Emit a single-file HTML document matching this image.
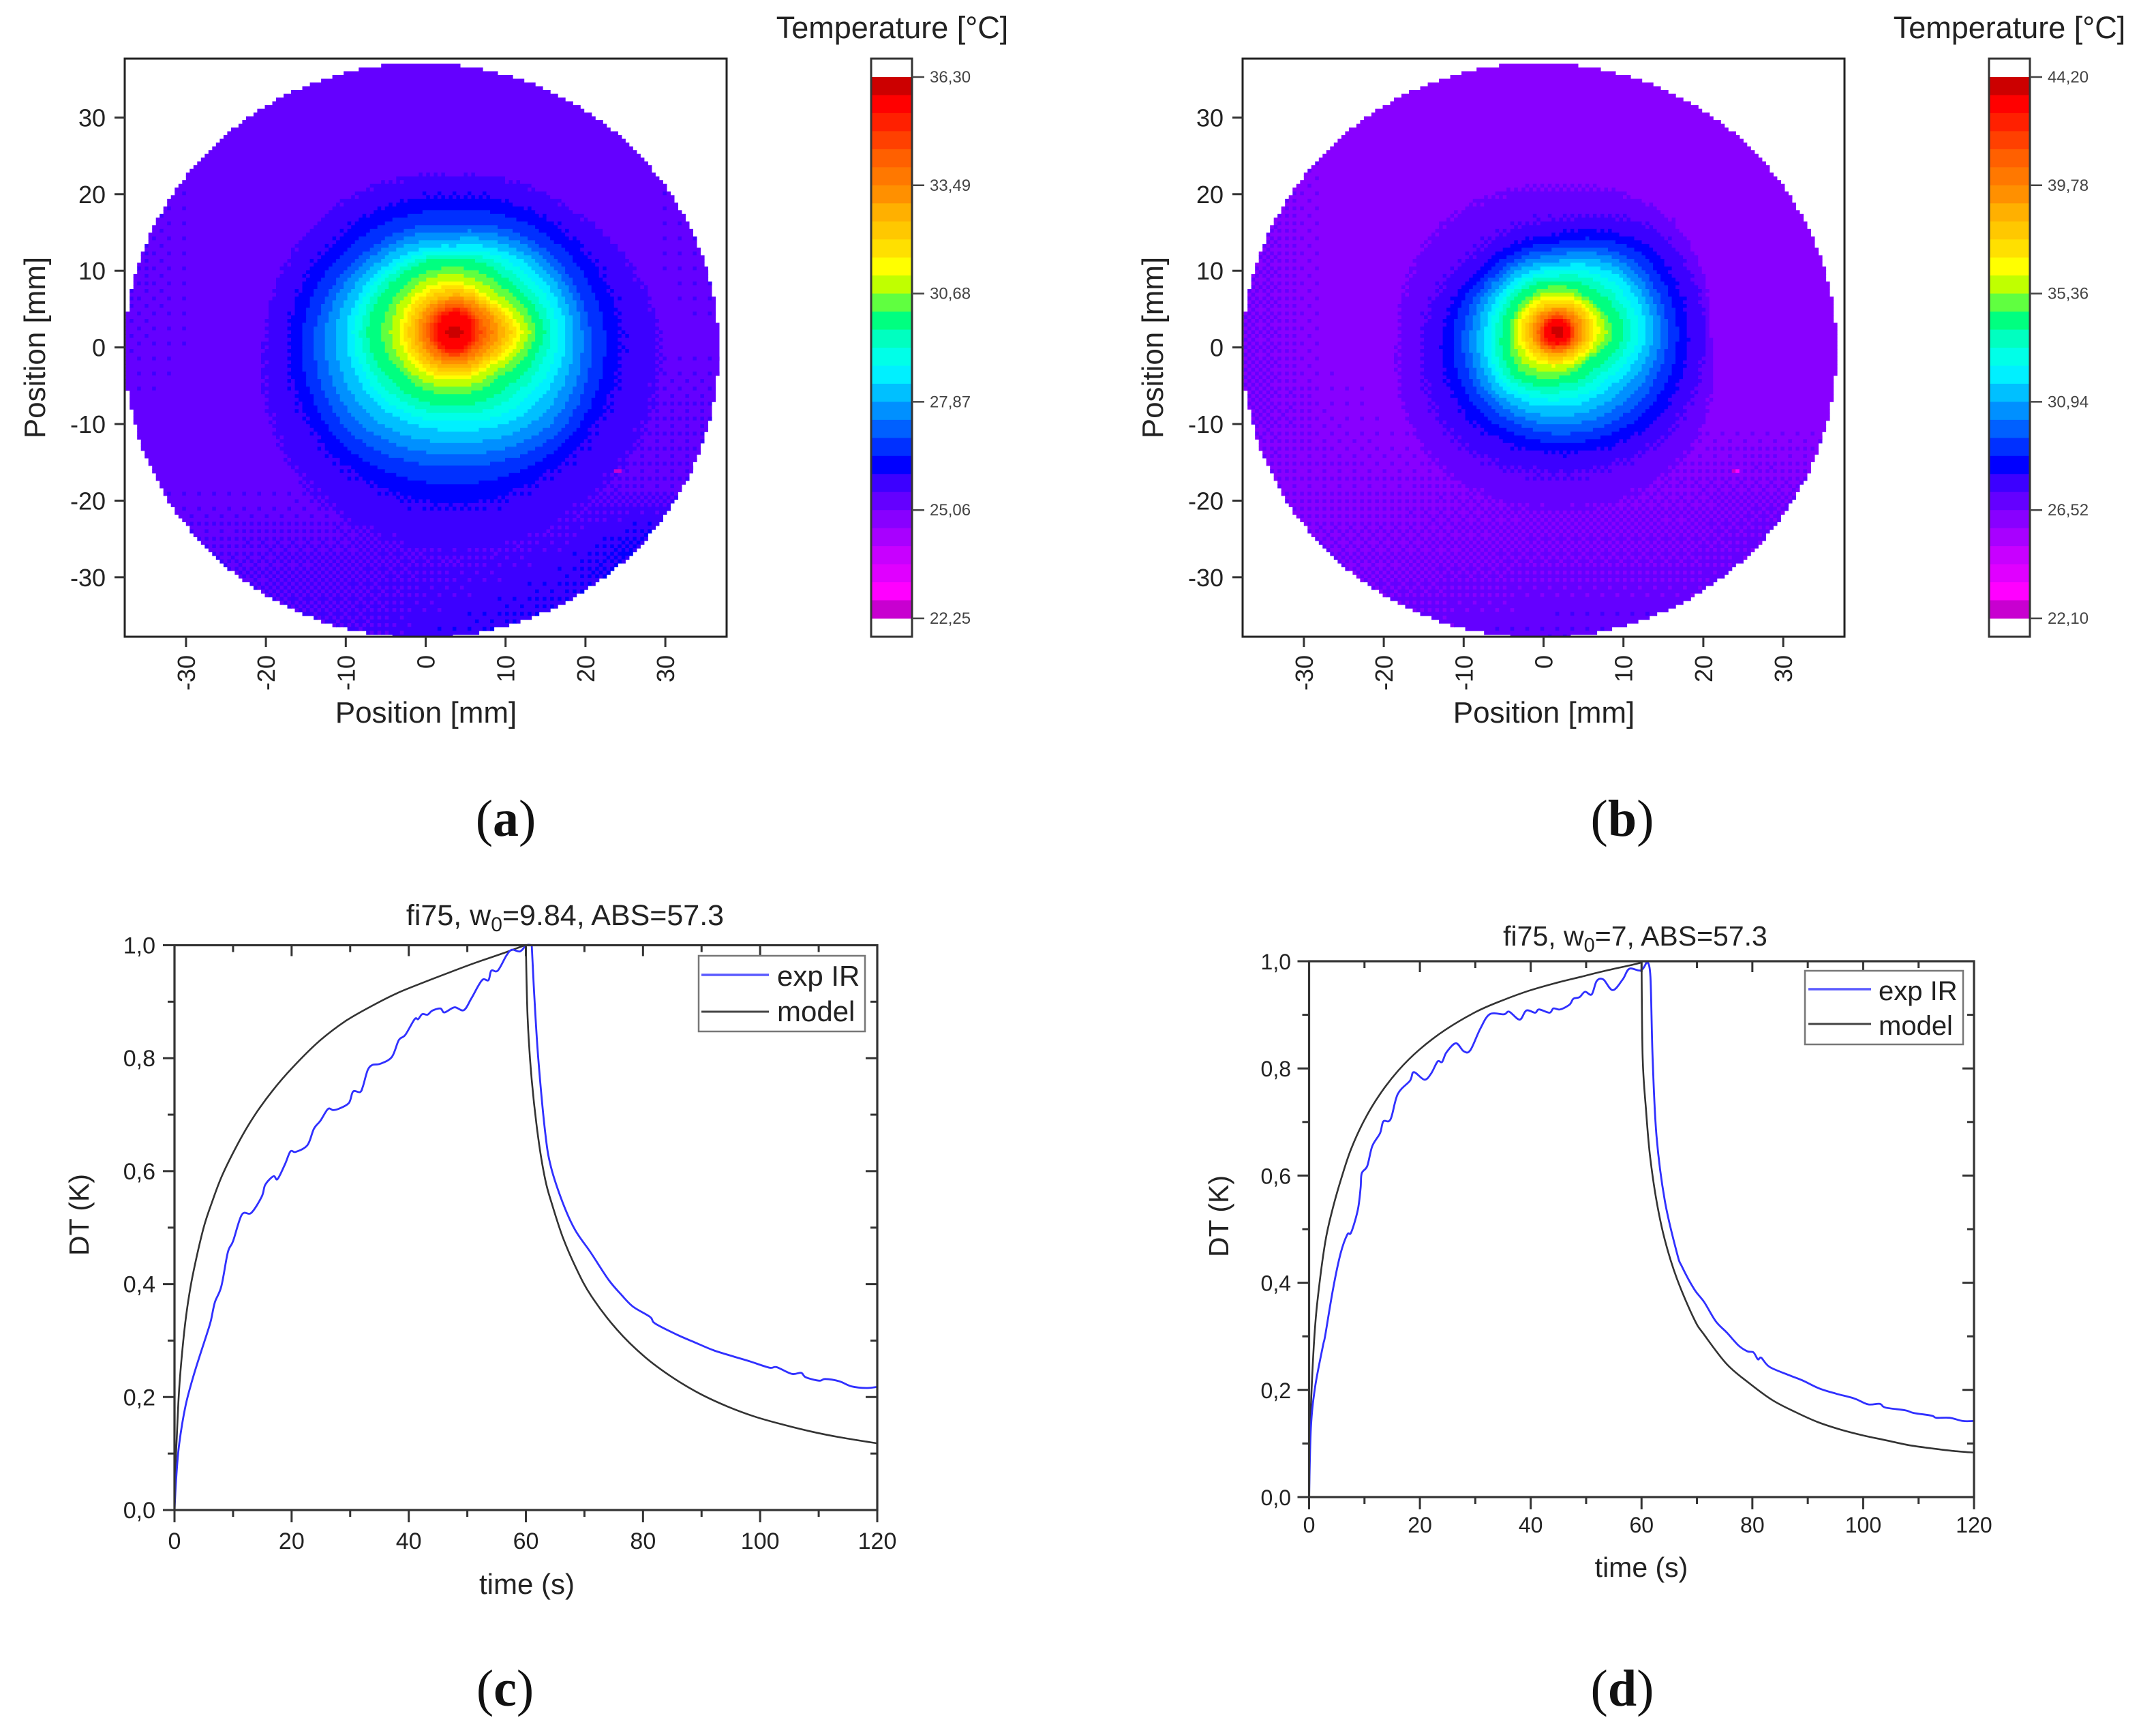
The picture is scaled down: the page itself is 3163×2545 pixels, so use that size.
<!DOCTYPE html>
<html lang="en">
<head>
<meta charset="utf-8">
<title>Temperature maps and DT curves</title>
<style>
html,body{margin:0;padding:0;background:#fff}
svg{display:block}
text{font-family:"Liberation Sans",sans-serif;fill:#222}
.lbl{font-family:"Liberation Serif",serif;fill:#111;font-size:76px}
</style>
</head>
<body>
<svg id="figure" xmlns="http://www.w3.org/2000/svg" width="3163" height="2545" viewBox="0 0 3163 2545">
<rect x="0" y="0" width="3163" height="2545" fill="#ffffff"/>
<text class="lbl" x="742" y="1226" text-anchor="middle">(<tspan font-weight="bold">a</tspan>)</text>
<text class="lbl" x="2380" y="1226" text-anchor="middle">(<tspan font-weight="bold">b</tspan>)</text>
<text class="lbl" x="741" y="2502" text-anchor="middle">(<tspan font-weight="bold">c</tspan>)</text>
<text class="lbl" x="2380" y="2502" text-anchor="middle">(<tspan font-weight="bold">d</tspan>)</text>

<text x="1309" y="56" font-size="45" text-anchor="middle">Temperature [°C]</text>
<text x="2948" y="56" font-size="45" text-anchor="middle">Temperature [°C]</text>

<text x="829" y="1357" font-size="43" text-anchor="middle">fi75, w<tspan font-size="30" dy="9">0</tspan><tspan dy="-9">=9.84, ABS=57.3</tspan></text>
<text x="2399" y="1387" font-size="41" text-anchor="middle">fi75, w<tspan font-size="29" dy="9">0</tspan><tspan dy="-9">=7, ABS=57.3</tspan></text>

<g id="panelA"></g>
<g id="panelB"></g>
<g id="panelC"></g>
<g id="panelD"></g>

<g>
<rect x="1025" y="1402" width="244" height="111" fill="#fff" stroke="#777" stroke-width="2.5"/>
<line x1="1029" y1="1430" x2="1128" y2="1430" stroke="#5a5aff" stroke-width="3.5"/>
<line x1="1029" y1="1484" x2="1128" y2="1484" stroke="#444" stroke-width="3"/>
<text x="1140" y="1446" font-size="42">exp IR</text>
<text x="1140" y="1498" font-size="42">model</text>
</g>
<g>
<rect x="2648" y="1424" width="232" height="108" fill="#fff" stroke="#777" stroke-width="2.5"/>
<line x1="2653" y1="1451" x2="2745" y2="1451" stroke="#5a5aff" stroke-width="3.5"/>
<line x1="2653" y1="1502" x2="2745" y2="1502" stroke="#444" stroke-width="3"/>
<text x="2756" y="1467" font-size="40">exp IR</text>
<text x="2756" y="1518" font-size="40">model</text>
</g>
</svg>

<script>
/* ---------- shared colour scale (top to bottom of the colour bar) ---------- */
var bandColors = ['#cc0000','#ff0000','#ff2000','#ff4000','#ff6000','#ff7800','#ff9000','#ffb000','#ffc800','#ffe000',
  '#ffff00','#c0ff00','#60ff40','#00ff80','#00ffc0','#00ffe8','#00f0ff','#00c0ff','#0090ff','#0060ff',
  '#0030ff','#0000ff','#3c00ff','#6400ff','#8800ff','#a800ff','#c800ff','#e000ff','#ff00ff','#c800d0'];

/* ---------- panel a/b axis ticks ---------- */
var mmTicks = [-30,-20,-10,0,10,20,30];
var contourAngles = [0,45,90,135,180,225,270,315];

/* ---------- panel a ---------- */
var colorbarValuesA = [36.30,33.49,30.68,27.87,25.06,22.25];
var blobCenterA = [3.6,2.0];
var contourBandsA = [1,2,5,8,11,13,14,17,20,22,23];
var contourRadiiA = [
  [1.0,1.0,0.9,1.0,1.0,1.0,0.9,1.0],
  [2.1,2.5,2.7,2.4,2.2,2.4,2.4,2.2],
  [3.9,3.7,3.6,3.6,3.4,3.4,3.3,3.4],
  [6.4,5.1,4.9,4.9,5.1,4.9,4.8,4.9],
  [8.5,6.1,6.6,6.8,6.9,6.6,6.3,6.3],
  [10.3,8.4,8.4,8.7,9.1,8.4,8.2,8.1],
  [11.3,9.5,9.7,10.1,10.9,10.1,9.6,9.7],
  [14,12.7,11.2,12.2,13.6,13.5,12.8,13.9],
  [17,15.6,14,15.2,17.5,18.6,17.3,18.6],
  [20.6,18.8,17.5,18.8,20.6,21.9,22.4,21.3],
  [25.9,22,20.5,22.5,23.8,27.5,30,28]
];
var outerBandGridA = [
  [23.9,24,24,24,24,24,24,24,24],
  [23.8,24,24,24,24,24,24,24,23.9],
  [23.8,24,24,24,24,24,24,24,23.9],
  [23.8,24,24,24,24,24,24,24,23.9],
  [23.9,24,24,24,24,24,24,24,24],
  [24,24,24,24,24,24,24,23.8,23.8],
  [24,24,24,24,23.8,23.6,23.6,23.8,23.8],
  [23.7,23.7,23.6,23.5,23.4,23.2,23,22.2,22.2],
  [23.4,23.4,23.4,23.4,23,22.8,22.6,22.2,22.2]
];
var hotCellsA = [[23.4,-16.1,30],[23.9,-16.1,30]];

/* ---------- panel b ---------- */
var colorbarValuesB = [44.20,39.78,35.36,30.94,26.52,22.10];
var blobCenterB = [1.75,2.0];
var contourBandsB = [1,2,5,8,11,13,14,17,20,22,23,24];
var contourRadiiB = [
  [0.7,0.7,0.6,0.7,0.7,0.7,0.6,0.7],
  [1.5,1.6,1.6,1.6,1.5,1.6,1.5,1.5],
  [2.3,2.3,2.5,2.4,2.4,2.5,2.2,2.3],
  [3.6,3.6,3.3,3.5,3.5,3.3,3.1,3.1],
  [5.2,5.0,4.7,4.9,5.1,4.8,4.4,4.4],
  [7,5.8,6,5.8,6,6.9,5.9,5.2],
  [8.4,7.3,6.7,6.9,7,8,6.9,6.7],
  [11.2,10.5,8.5,8.8,9,10.1,9.8,9.7],
  [13.8,13.3,10.8,10.8,11.8,12.8,13.3,13.7],
  [16.3,15.9,12.6,12.7,14.2,15.7,15.6,16.6],
  [18.5,18.3,14.5,14.5,16.7,19,18.3,19.2],
  [19,20.7,19.2,20.5,20,23,24,23]
];
var outerBandGridB = [
  [25,25,25,25,25,25,25,25,25],
  [24.5,25,25,25,25,25,25,25,25],
  [24.5,25,25,25,25,25,25,25,25],
  [24.5,25,25,25,25,25,25,25,25],
  [24.5,25,25,25,25,25,25,25,25],
  [24.5,24.9,25,25,25,25,25,25,25],
  [24.8,24.8,24.8,24.7,24.6,24.6,24.7,24.6,24.7],
  [24.7,24.6,24.6,24.5,24.4,24.4,24.4,24.1,24],
  [24.5,24.4,24.2,24,23.9,23.9,23.9,23.9,23.9]
];
var hotCellsB = [[23.5,-16.1,30],[24,-16.1,29]];

/* ---------- chart c data ---------- */
var timeTicks = [0,20,40,60,80,100,120];
var timeMinorTicks = [10,30,50,70,90,110];
var dtTicks = [0,0.2,0.4,0.6,0.8,1.0];
var dtMinorTicks = [0.1,0.3,0.5,0.7,0.9];
var expTimeC = [0,0.3,0.8,1.9,3.4,5.5,6.2,6.9,8,9.1,10,11.5,13.1,14.9,15.5,16.9,17.6,18.9,19.8,20.7,22.7,23.8,24.9,26.2,27.1,28.2,29.8,30.5,31.7,32.2,33,33.8,35.1,37.1,38.3,39.4,41,41.6,42.3,43.2,44,45.4,46.1,47.8,49.4,50.7,52.5,53.6,54.1,55.2,56.7,57.6,59,60.1,61,61.4,62.1,63.3,64.3,66.3,68.4,71,74.1,76.4,78.3,81.2,82.1,85.9,88.8,92,95.4,98.3,101.6,102.8,105.4,107,107.8,110.1,111.1,113.5,115.6,118.2,120];
var expValC = [0,0.058,0.117,0.185,0.243,0.311,0.335,0.368,0.396,0.456,0.476,0.523,0.526,0.555,0.576,0.591,0.586,0.613,0.635,0.634,0.646,0.675,0.689,0.71,0.708,0.711,0.721,0.741,0.74,0.751,0.779,0.788,0.79,0.802,0.832,0.841,0.869,0.869,0.878,0.877,0.884,0.888,0.881,0.89,0.885,0.906,0.938,0.938,0.955,0.955,0.982,0.992,0.989,1,1,0.918,0.802,0.668,0.607,0.544,0.496,0.457,0.408,0.38,0.36,0.342,0.33,0.31,0.297,0.283,0.272,0.263,0.252,0.253,0.241,0.243,0.235,0.229,0.232,0.228,0.219,0.216,0.218];
var modelTimeC = [0,0.1,0.4,0.8,1.5,2.2,3.1,4.9,6.4,8.2,10.9,13.5,16.7,20.2,24.7,29.1,33.6,38,42.5,47,51.4,55.9,59.6,60,60.3,61,62.1,63.3,64.5,66.3,68.5,71.1,75.5,80.2,85,89.7,94.5,99.2,104,108.7,113.5,120];
var modelValC = [0,0.058,0.13,0.215,0.3,0.36,0.415,0.497,0.545,0.594,0.65,0.696,0.742,0.784,0.83,0.865,0.892,0.915,0.934,0.952,0.969,0.985,0.999,1,0.871,0.761,0.66,0.585,0.54,0.483,0.43,0.38,0.32,0.272,0.235,0.206,0.183,0.165,0.151,0.139,0.129,0.118];

/* ---------- chart d data ---------- */
var expTimeD = [0,0.33,1.1,2.5,2.9,4.3,5.7,6.9,7.6,8.8,9.3,9.5,10.5,11.4,12.8,13.4,14.7,16,18.2,18.9,20.8,22,23.2,24,24.8,26.5,27.9,29.1,30.9,32.6,35.2,36.1,38,39.2,40.8,41.5,43.4,44.1,45.3,47,47.7,48.8,49.8,51,51.9,53.1,54.8,56.6,57.8,59.9,61,61.6,62,62.7,64.2,66.4,67.3,69.5,71.3,73.4,75.4,77.5,79.1,80.2,81,81.6,83.1,86.5,89,92,95.1,98.4,100.9,103,104,107.6,109.1,112.3,113.2,115.6,118,120];
var expValD = [0,0.13,0.206,0.282,0.301,0.387,0.455,0.49,0.494,0.536,0.577,0.604,0.618,0.655,0.679,0.701,0.705,0.752,0.777,0.793,0.779,0.79,0.813,0.812,0.83,0.847,0.832,0.834,0.874,0.901,0.901,0.906,0.891,0.908,0.904,0.91,0.904,0.912,0.91,0.919,0.93,0.933,0.943,0.938,0.963,0.966,0.946,0.966,0.986,0.983,1,0.971,0.82,0.674,0.553,0.455,0.43,0.388,0.364,0.328,0.307,0.283,0.272,0.27,0.257,0.26,0.243,0.228,0.218,0.203,0.193,0.184,0.173,0.174,0.167,0.162,0.157,0.152,0.148,0.148,0.142,0.142];
var modelTimeD = [0,0.1,0.33,0.9,1.5,2.9,4.3,6,7.6,10,12.8,16.1,19.9,24.6,30.2,34.9,39.7,44.4,49.1,53.8,59.4,60,60.2,60.8,61.5,62.7,64.2,66.4,69.5,71.3,75.4,79.5,83.6,87.7,91.8,95.9,100,104.1,108.2,112.3,116.4,120];
var modelValD = [0,0.08,0.17,0.29,0.365,0.475,0.54,0.601,0.65,0.704,0.752,0.796,0.835,0.872,0.906,0.927,0.945,0.959,0.971,0.983,0.996,1,0.82,0.723,0.64,0.553,0.48,0.407,0.332,0.303,0.248,0.212,0.181,0.159,0.14,0.126,0.115,0.106,0.097,0.091,0.086,0.083];

var NS = 'http://www.w3.org/2000/svg';
var bayerMatrix = [[0,8,2,10],[12,4,14,6],[3,11,1,9],[15,7,13,5]];
function make(parent, tag, attrs, txt) {
  var el = document.createElementNS(NS, tag);
  for (var k in attrs) el.setAttribute(k, attrs[k]);
  if (txt !== undefined) el.textContent = txt;
  parent.appendChild(el);
  return el;
}
function fmtTemp(v){ return v.toFixed(2).replace('.', ','); }
function fmtDt(v){ return v.toFixed(1).replace('.', ','); }

/* field lookup: contour radii near the hot spot, coarse grid further out */
function contourRadius(radii, deg) {
  var step = contourAngles[1] - contourAngles[0];
  var p = ((deg % 360) + 360) % 360 / step;
  var i = Math.floor(p) % radii.length, f = p - Math.floor(p);
  return radii[i] * (1 - f) + radii[(i + 1) % radii.length] * f;
}
function gridValue(grid, x, y) {
  var c = Math.max(0, Math.min(7.999, (x + 36) / 9));
  var r = Math.max(0, Math.min(7.999, (36 - y) / 9));
  var ci = Math.floor(c), ri = Math.floor(r), fc = c - ci, fr = r - ri;
  return (grid[ri][ci] * (1 - fc) + grid[ri][ci + 1] * fc) * (1 - fr) +
         (grid[ri + 1][ci] * (1 - fc) + grid[ri + 1][ci + 1] * fc) * fr;
}
function bandAt(o, x, y, dither) {
  var dx = x - o.center[0], dy = y - o.center[1];
  var r = Math.sqrt(dx * dx + dy * dy);
  var deg = Math.atan2(dy, dx) * 180 / Math.PI;
  var prevR = 0, prevV = 0.5;
  for (var k = 0; k < o.bands.length; k++) {
    var R = contourRadius(o.radii[k], deg), V = o.bands[k] + 0.5;
    if (r <= R) {
      var v = prevV + (V - prevV) * (r - prevR) / Math.max(R - prevR, 0.001);
      if (v < 22.5) return Math.round(v);
      return Math.floor(v + 0.5 + (dither - 0.5) * 0.5);
    }
    prevR = R; prevV = V;
  }
  return Math.floor(gridValue(o.grid, x, y) + dither);
}

function drawHeatPanel(root, o) {
  var dx = o.dx;
  var L = 183 + dx, R = 1066 + dx, T = 86, B = 934;
  var x0 = 624.5 + dx, y0 = 509.6, sx = 11.72, sy = 11.24;
  function px(mm){ return x0 + mm * sx; }
  function py(mm){ return y0 - mm * sy; }

  var cellX = 0.47, cellY = 0.49;
  var diskX = -0.5, diskY = -0.4, rx = 37.15, ry = 37.5, topClip = 36.9;
  var g = make(root, 'g', {});
  
  
  var hot = {};
  o.hot.forEach(function (h) {
    hot[Math.round((h[0] + 38) / cellX) + '_' + Math.round((38 - h[1]) / cellY)] = h[2];
  });
  var rows = Math.ceil(76 / cellY), cols = Math.ceil(76 / cellX);
  for (var j = 0; j < rows; j++) {
    var Y = 38 - (j + 0.5) * cellY;
    var runStart = -1, runBand = -1;
    for (var i = 0; i <= cols; i++) {
      var X = -38 + (i + 0.5) * cellX;
      var nx = (X - diskX) / rx, ny = (Y - diskY) / ry;
      var band = -1;
      if (i < cols && nx * nx + ny * ny <= 1 && Y < topClip && px(X) > L && py(Y) < B) {
        var dither = (bayerMatrix[j % 4][i % 4] + 0.5) / 16;
        band = bandAt(o, X, Y, dither);
        var key = i + '_' + j;
        if (hot[key]) band = hot[key];
        band = Math.max(1, Math.min(30, band));
      }
      if (band !== runBand) {
        if (runBand > 0) {
          var xa = px(-38 + runStart * cellX), xb = px(-38 + i * cellX);
          var ya = py(38 - j * cellY), yb = Math.min(py(38 - (j + 1) * cellY) + 0.6, B);
          var cell = make(g, 'rect', {x: xa.toFixed(1), y: ya.toFixed(1), width: (xb - xa + 0.6).toFixed(1), height: (yb - ya).toFixed(1), fill: bandColors[runBand - 1]});
          
          
        }
        runStart = i; runBand = band;
      }
    }
  }

  var frame = make(root, 'rect', {x: L, y: T, width: R - L, height: B - T, fill: 'none', stroke: '#222', 'stroke-width': 3});
  
  

  mmTicks.forEach(function (v) {
    var t1 = make(root, 'line', {x1: px(v), x2: px(v), y1: B, y2: B + 15, stroke: '#333', 'stroke-width': 3});
    
    
    var l1 = make(root, 'text', {x: px(v), y: 961, 'font-size': 36, 'text-anchor': 'end', transform: 'rotate(-90 ' + px(v) + ' 961)', dy: '0.36em'}, String(v));
    
    
    var t2 = make(root, 'line', {x1: L - 15, x2: L, y1: py(v), y2: py(v), stroke: '#333', 'stroke-width': 3});
    
    
    var l2 = make(root, 'text', {x: 155 + dx, y: py(v) + 13, 'font-size': 36, 'text-anchor': 'end'}, String(v));
    
    
  });
  var xt = make(root, 'text', {x: 625 + dx, y: 1060, 'font-size': 44, 'text-anchor': 'middle'}, 'Position [mm]');
  
  
  var yt = make(root, 'text', {x: 66 + dx, y: 510, 'font-size': 44, 'text-anchor': 'middle', transform: 'rotate(-90 ' + (66 + dx) + ' 510)'}, 'Position [mm]');
  
  

  /* colour bar */
  var cbL = 1278 + dx, cbR = 1338 + dx, cbTop = 113, cbBot = 907;
  bandColors.forEach(function (c, i) {
    var h = (cbBot - cbTop) / bandColors.length;
    var s = make(root, 'rect', {x: cbL, y: (cbTop + i * h).toFixed(2), width: cbR - cbL, height: (h + 0.5).toFixed(2), fill: c});
    
    
  });
  var cbf = make(root, 'rect', {x: cbL, y: T, width: cbR - cbL, height: B - T, fill: 'none', stroke: '#333', 'stroke-width': 3});
  
  
  var vals = o.cbValues, vMax = vals[0], vMin = vals[vals.length - 1];
  vals.forEach(function (v) {
    var y = cbBot - (v - vMin) / (vMax - vMin) * (cbBot - cbTop);
    var tk = make(root, 'line', {x1: cbR, x2: cbR + 18, y1: y, y2: y, stroke: '#444', 'stroke-width': 2.5});
    
    
    var tl = make(root, 'text', {x: cbR + 26, y: y + 8, 'font-size': 24, style: 'fill:#444'}, fmtTemp(v));
    
    
  });
}

function drawLineChart(root, o) {
  var L = o.L, R = o.R, T = o.T, B = o.B;
  function x(t){ return L + (t / 120) * (R - L); }
  function y(v){ return B - v * (B - T); }
  /* smooth curve through the read points, with a sharp corner at the peak */
  function path(ts, vs, cornerTime) {
    var n = Math.min(ts.length, vs.length), pts = [], brk = -1;
    for (var i = 0; i < n; i++) {
      pts.push([x(ts[i]), y(vs[i])]);
      if (ts[i] === cornerTime) brk = i;
    }
    var d = 'M' + pts[0][0].toFixed(1) + ' ' + pts[0][1].toFixed(1);
    for (var s = 0; s < n - 1; s++) {
      var p1 = pts[s], p2 = pts[s + 1];
      var p0 = (s === 0 || s === brk) ? p1 : pts[s - 1];
      var p3 = (s + 2 >= n || s + 1 === brk) ? p2 : pts[s + 2];
      var c1x = p1[0] + (p2[0] - p0[0]) / 6, c1y = p1[1] + (p2[1] - p0[1]) / 6;
      var c2x = p2[0] - (p3[0] - p1[0]) / 6, c2y = p2[1] - (p3[1] - p1[1]) / 6;
      d += 'C' + c1x.toFixed(1) + ' ' + c1y.toFixed(1) + ' ' + c2x.toFixed(1) + ' ' + c2y.toFixed(1) + ' ' + p2[0].toFixed(1) + ' ' + p2[1].toFixed(1);
    }
    return d;
  }
  var mod = make(root, 'path', {d: path(o.modelT, o.modelV, 60), fill: 'none', stroke: '#333', 'stroke-width': 2.6, 'stroke-linejoin': 'round'});
  
  
  var exp = make(root, 'path', {d: path(o.expT, o.expV, 61), fill: 'none', stroke: '#3030ff', 'stroke-width': 2.8, 'stroke-linejoin': 'round'});
  
  

  var fr = make(root, 'rect', {x: L, y: T, width: R - L, height: B - T, fill: 'none', stroke: '#333', 'stroke-width': 3.2});
  
  

  function tick(x1, y1, x2, y2, name) {
    var t = make(root, 'line', {x1: x1, y1: y1, x2: x2, y2: y2, stroke: '#333', 'stroke-width': 3});
    
    
  }
  timeTicks.forEach(function (t) {
    tick(x(t), B, x(t), B + 18, 'x-tick');
    tick(x(t), T, x(t), T + 16, 'x-tick-top');
    var l = make(root, 'text', {x: x(t), y: o.xLabelY, 'font-size': o.tickFont, 'text-anchor': 'middle'}, String(t));
    
    
  });
  timeMinorTicks.forEach(function (t) {
    tick(x(t), B, x(t), B + 10, 'x-minor-tick');
    tick(x(t), T, x(t), T + 10, 'x-minor-tick-top');
  });
  dtTicks.forEach(function (v) {
    tick(L - 17, y(v), L, y(v), 'y-tick');
    tick(R - 17, y(v), R, y(v), 'y-tick-right');
    var l = make(root, 'text', {x: o.yLabelX, y: y(v) + 12, 'font-size': o.tickFont, 'text-anchor': 'end'}, fmtDt(v));
    
    
  });
  dtMinorTicks.forEach(function (v) {
    tick(L - 10, y(v), L, y(v), 'y-minor-tick');
    tick(R - 10, y(v), R, y(v), 'y-minor-tick-right');
  });
  var xt = make(root, 'text', {x: o.xTitle[0], y: o.xTitle[1], 'font-size': o.titleFont, 'text-anchor': 'middle'}, 'time (s)');
  
  
  var yt = make(root, 'text', {x: o.yTitle[0], y: o.yTitle[1], 'font-size': 41, 'text-anchor': 'middle', transform: 'rotate(-90 ' + o.yTitle[0] + ' ' + o.yTitle[1] + ')'}, 'DT (K)');
  
  
}

drawHeatPanel(document.getElementById('panelA'), {dx: 0, center: blobCenterA, bands: contourBandsA, radii: contourRadiiA, grid: outerBandGridA, hot: hotCellsA, cbValues: colorbarValuesA});
drawHeatPanel(document.getElementById('panelB'), {dx: 1640, center: blobCenterB, bands: contourBandsB, radii: contourRadiiB, grid: outerBandGridB, hot: hotCellsB, cbValues: colorbarValuesB});
drawLineChart(document.getElementById('panelC'), {L: 256, R: 1287, T: 1386.5, B: 2215, expT: expTimeC, expV: expValC, modelT: modelTimeC, modelV: modelValC, tickFont: 34, titleFont: 42, xLabelY: 2272, yLabelX: 228, xTitle: [773, 2338], yTitle: [130, 1782]});
drawLineChart(document.getElementById('panelD'), {L: 1920.5, R: 2896, T: 1410, B: 2196, expT: expTimeD, expV: expValD, modelT: modelTimeD, modelV: modelValD, tickFont: 32, titleFont: 41, xLabelY: 2248, yLabelX: 1894, xTitle: [2408, 2313], yTitle: [1802, 1784]});
</script>
</body>
</html>
